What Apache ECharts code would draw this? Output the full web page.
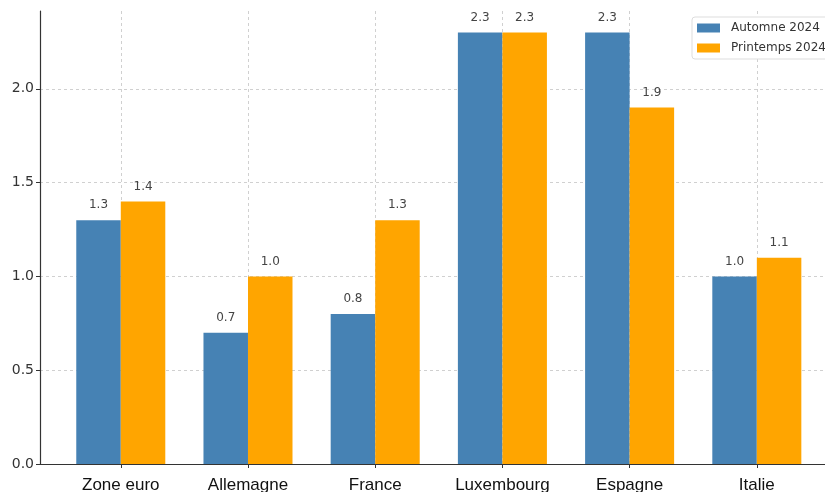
<!DOCTYPE html>
<html>
<head>
<meta charset="utf-8">
<script src="https://cdn.jsdelivr.net/npm/echarts@6/dist/echarts.min.js"></script>
<style>
html,body{margin:0;padding:0;background:#fff;}
#chart{width:825px;height:492px;}
</style>
</head>
<body>
<div id="chart"></div>
<script>
const categories = ["Zone euro", "Allemagne", "France", "Luxembourg", "Espagne", "Italie"];
const automne2024 = [1.3, 0.7, 0.8, 2.3, 2.3, 1.0];
const printemps2024 = [1.4, 1.0, 1.3, 2.3, 1.9, 1.1];
const seriesNames = ["Automne 2024", "Printemps 2024"];
const yTicks = [0, 0.5, 1.0, 1.5, 2.0];

const barHalf = 0.175;
const idx = categories.map((c, i) => i);

const chart = echarts.init(document.getElementById('chart'), null, {renderer: 'canvas'});

function mkSeries(name, values, shift, color) {
  return {
    name: name,
    type: 'bar',
    barWidth: 44.5,
    barGap: '-100%',
    data: values.map((v, i) => [i + shift, v]),
    itemStyle: {color: color},
    label: {
      show: true,
      position: 'top',
      distance: 9,
      formatter: p => p.value[1].toFixed(1),
      fontFamily: 'DejaVu Sans',
      fontSize: 12,
      color: '#444'
    },
    z: 3
  };
}

chart.setOption({
  animation: false,
  backgroundColor: '#fff',
  grid: {left: 40, top: 11, bottom: 28, width: 797.6, containLabel: false, outerBoundsMode: 'none'},
  legend: {
    left: 692,
    top: 17,
    orient: 'vertical',
    itemWidth: 23,
    itemHeight: 9,
    itemGap: 8,
    padding: [5, 30, 5, 5],
    borderColor: '#ddd',
    borderWidth: 1,
    borderRadius: 3,
    backgroundColor: '#fff',
    textStyle: {fontFamily: 'DejaVu Sans', fontSize: 12, color: '#333', padding: [0, 0, 0, 6]},
    itemStyle: {borderWidth: 0},
    icon: 'rect',
    data: seriesNames
  },
  xAxis: {
    type: 'value',
    min: -0.635,
    max: 5.635,
    axisLine: {show: true, onZero: false, lineStyle: {color: '#333', width: 1.2}},
    axisTick: {show: true, customValues: idx, length: 4, inside: false, lineStyle: {color: '#333'}},
    axisLabel: {
      customValues: idx,
      formatter: v => categories[Math.round(v)],
      fontFamily: 'Liberation Sans',
      fontSize: 17,
      color: '#111',
      margin: 13
    },
    splitLine: {show: true, customValues: idx, lineStyle: {color: '#d0d0d0', type: [3, 3], width: 1}}
  },
  yAxis: {
    type: 'value',
    min: 0,
    max: 2.415,
    interval: 0.5,
    axisLine: {show: true, onZero: false, lineStyle: {color: '#333', width: 1.2}},
    axisTick: {show: true, length: 4, customValues: yTicks, lineStyle: {color: '#333'}},
    axisLabel: {
      customValues: yTicks,
      formatter: v => v.toFixed(1),
      fontFamily: 'DejaVu Sans',
      fontSize: 14,
      color: '#333',
      margin: 6
    },
    splitLine: {show: true, lineStyle: {color: '#d0d0d0', type: [3, 3], width: 1}}
  },
  series: [
    mkSeries(seriesNames[0], automne2024, -barHalf, '#4682B4'),
    mkSeries(seriesNames[1], printemps2024, barHalf, '#FFA500')
  ]
});
</script>
</body>
</html>
